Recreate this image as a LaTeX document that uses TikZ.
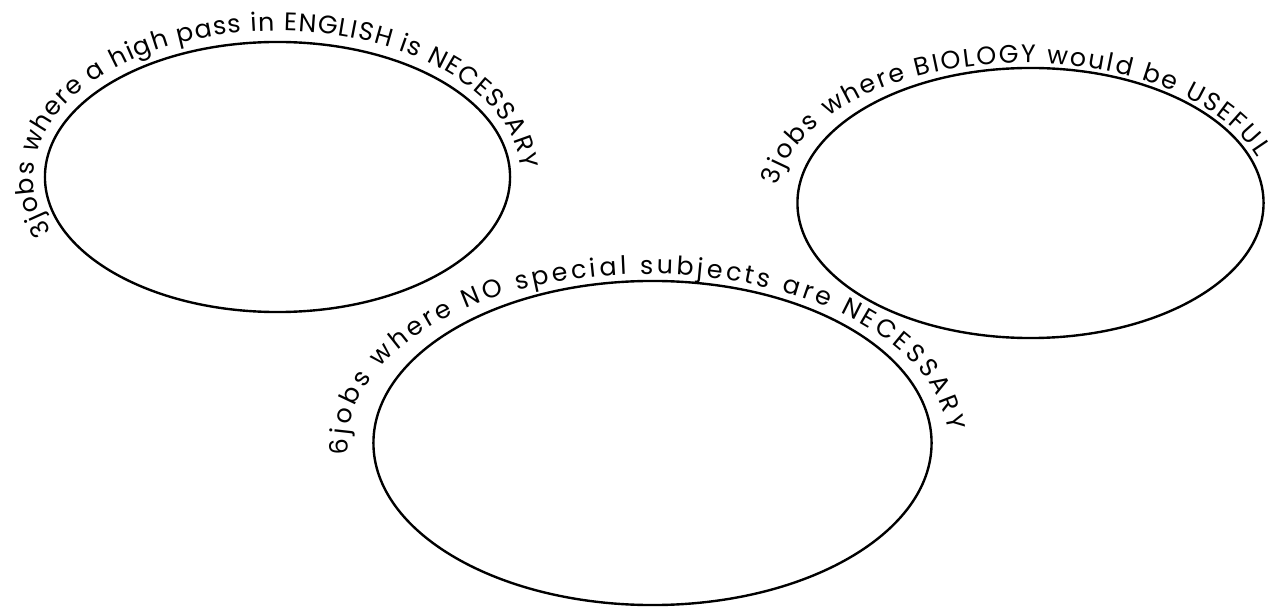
\documentclass[tikz,border=0pt]{standalone}
\usepackage{fontspec}
\setmainfont{Poppins}
\usetikzlibrary{shapes.geometric,decorations.text,calc}
\newcommand\lblfont{\fontsize{18}{20}\selectfont}
\begin{document}
\begin{tikzpicture}[x=0.025cm,y=0.025cm,
  ring/.style={draw, ellipse, line width=1.7pt, inner sep=0pt, outer sep=0pt},
  arclabel/.style={decorate, decoration={text along path, text align={fit to path}, text={|\lblfont|#1}}}]
\useasboundingbox (0,0) rectangle (1284,607);
\fill[white] (0,0) rectangle (1284,607);

\node[ring, minimum width=11.625cm, minimum height=6.75cm] (e1) at (277.5,430) {};
\node[ring, minimum width=11.65cm, minimum height=6.75cm] (e2) at (1030.5,404) {};
\node[ring, minimum width=13.95cm, minimum height=8.1cm] (e3) at (652.5,164) {};

\path[arclabel={3jobs where a high pass in ENGLISH is NECESSARY}]
  ($(e1.center)+(202:244 and 146)$) arc[start angle=202, end angle=3, x radius=244, y radius=146];
\path[arclabel={3jobs where BIOLOGY would be USEFUL}]
  ($(e2.center)+(-7,0)+(173:247.5 and 140)$) arc[start angle=173, end angle=19, x radius=247.5, y radius=140];
\path[arclabel={6jobs where NO special subjects are NECESSARY}]
  ($(e3.center)+(-4,0)+(184:300 and 169)$) arc[start angle=184, end angle=4, x radius=300, y radius=169];
\end{tikzpicture}
\end{document}
